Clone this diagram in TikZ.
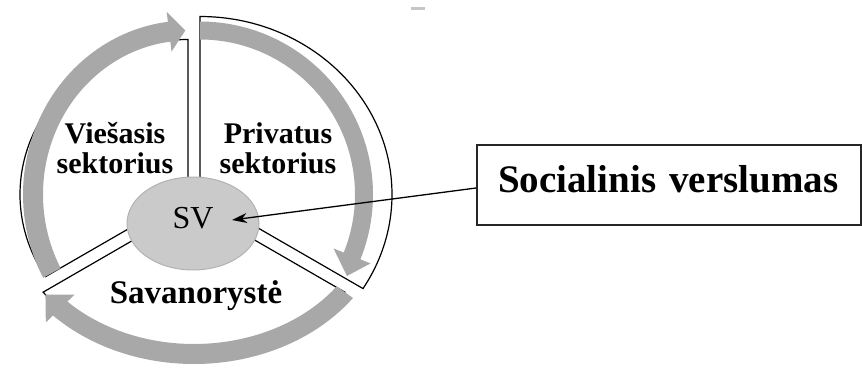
\documentclass[tikz,border=0pt]{standalone}
\usepackage{fontspec}
\setmainfont{Liberation Serif}
\usetikzlibrary{shapes.geometric, arrows.meta}
\definecolor{bandgray}{RGB}{168,168,168}
\definecolor{svgray}{RGB}{202,202,202}
\tikzset{
  segline/.style={draw=black, line width=0.6pt},
  segband/.style={fill=bandgray},
  svellipse/.style={
    ellipse, fill=svgray, draw=gray!60, line width=0.5pt,
    minimum width=66pt, minimum height=46.5pt, inner sep=0pt,
    font=\fontsize{16}{16}\selectfont, text depth=6pt
  },
  sectorlabel/.style={align=center, inner sep=0pt,
                      font=\fontsize{15}{15}\selectfont\bfseries},
  textbox/.style={
    rectangle, draw=black!85, line width=0.9pt,
    minimum width=192pt, minimum height=40pt,
    text width=171pt, inner xsep=10.5pt, align=left,
    text height=13pt, text depth=6pt,
    font=\fontsize{19.5}{22}\selectfont\bfseries
  },
  pointer/.style={-{Stealth[length=7.5pt, width=5pt]}, line width=0.65pt}
}

\begin{document}
\begin{tikzpicture}[x=0.5pt, y=0.5pt]
  \useasboundingbox (0,0) rectangle (862,376);

  % apex of each segment
  \coordinate (apexV) at (188,181.5);
  \coordinate (apexP) at (200,181.5);
  \coordinate (apexS) at (194,171);

  % segment outlines
  \begin{scope}[shift={(apexV)}]
    \draw[segline] (0,0) -- (90:168 and 155)
      arc[start angle=90, end angle=212, x radius=168, y radius=155] -- cycle;
  \end{scope}
  \begin{scope}[shift={(apexP)}]
    \draw[segline] (0,0) -- (90:192 and 178)
      arc[start angle=90, end angle=-31.9, x radius=192, y radius=178] -- cycle;
  \end{scope}
  \begin{scope}[shift={(apexS)}]
    \draw[segline] (0,0) -- (215.8:186 and 149)
      arc[start angle=215.8, end angle=324.2, x radius=186, y radius=149] -- cycle;
  \end{scope}

  % circular arrows
  \begin{scope}[shift={(apexV)}]
    \fill[segband] (208.6:165 and 174)
      arc[start angle=208.6, end angle=97, x radius=165, y radius=174]
      -- (97:175 and 184) -- (91:155 and 164) -- (97:135 and 144)
      -- (97:145 and 154)
      arc[start angle=97, end angle=208.6, x radius=145, y radius=154] -- cycle;
  \end{scope}
  \begin{scope}[shift={(apexP)}]
    \fill[segband] (90:173) arc[start angle=90, end angle=-22, radius=173]
      -- (-22:184) -- (-29:168) -- (-22:144)
      -- (-22:155) arc[start angle=-22, end angle=90, radius=155] -- cycle;
  \end{scope}
  \begin{scope}[shift={(apexS)}]
    \fill[segband] (324.2:196 and 159)
      arc[start angle=324.2, end angle=224, x radius=196, y radius=159]
      -- (224:206 and 169) -- (217:186 and 149) -- (224:166 and 129)
      -- (224:176 and 139)
      arc[start angle=224, end angle=324.2, x radius=176, y radius=139] -- cycle;
  \end{scope}

  \node[svellipse] (sv) at (193,152.5) {SV};

  \node[sectorlabel] (viesasis)    at (115,228) {Viešasis\\sektorius};
  \node[sectorlabel] (privatus)    at (278,228) {Privatus\\sektorius};
  \node[sectorlabel, font=\fontsize{16.5}{16.5}\selectfont\bfseries]
       (savanoryste) at (196,80) {Savanorystė};

  \node[textbox] (verslumas) at (669,191) {Socialinis verslumas};

  \coordinate (svtip) at (232,156);
  \draw[pointer] ([yshift=-1.5pt]verslumas.west) -- (svtip);

  \fill[gray!45] (411,366) rectangle (425,369);
\end{tikzpicture}
\end{document}
